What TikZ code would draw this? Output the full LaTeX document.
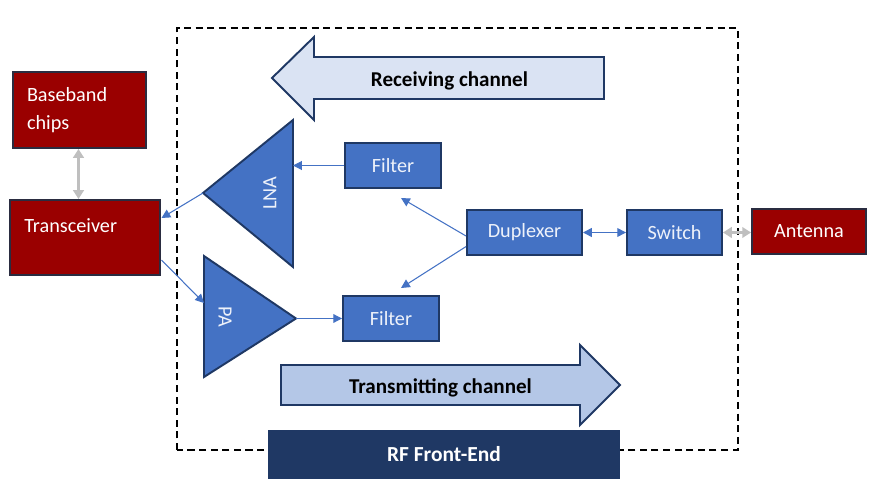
\documentclass[tikz,border=0pt]{standalone}
\usepackage{fontspec}
\setmainfont{Carlito}
\usetikzlibrary{arrows.meta}

\definecolor{blockblue}{HTML}{4472C4}
\definecolor{navyline}{HTML}{1F3864}
\definecolor{chipred}{HTML}{9A0000}
\definecolor{redline}{HTML}{2A2C40}
\definecolor{rxfill}{HTML}{DAE3F3}
\definecolor{txfill}{HTML}{B4C7E7}
\definecolor{arrowgray}{HTML}{BFBFBF}
\definecolor{paletext}{HTML}{EEF2FA}

\begin{document}
\begin{tikzpicture}[
    blockbox/.style={draw=navyline, line width=1.1pt, fill=blockblue, text=paletext,
        font=\fontsize{11.5}{13}\selectfont, minimum height=0.9cm, inner sep=0pt},
    redbox/.style={draw=redline, line width=1.1pt, fill=chipred, text=white,
        font=\fontsize{11.5}{16}\selectfont, inner sep=0pt},
    tribox/.style={draw=navyline, line width=1.1pt, fill=blockblue, line join=miter},
    sigarrow/.style={draw=blockblue, line width=0.6pt, -{Triangle[width=5pt,length=5pt]}},
    duparrow/.style={draw=blockblue, line width=0.8pt, {Triangle[width=5pt,length=5pt]}-{Triangle[width=5pt,length=5pt]}},
    grayarrow/.style={draw=arrowgray, line width=1.2pt, {Triangle[width=6pt,length=5pt]}-{Triangle[width=6pt,length=5pt]}},
    chanlabel/.style={font=\fontsize{12}{14}\selectfont\bfseries, text=black}
]
    \useasboundingbox (0,0) rectangle (17.5,9.9);

    % Dashed frame of the RF front-end
    \draw[line width=0.9pt, dash pattern=on 4pt off 2.6pt] (3.54,0.90) rectangle (14.76,9.34);

    % Receiving and transmitting channel arrows
    \draw[draw=navyline, line width=1.1pt, fill=rxfill]
        (5.44,8.34) -- (6.28,9.16) -- (6.28,8.76) -- (12.08,8.76)
        -- (12.08,7.92) -- (6.28,7.92) -- (6.28,7.50) -- cycle;
    \node[chanlabel] (rxlabel) at (8.99,8.28) {Receiving channel};
    \draw[draw=navyline, line width=1.1pt, fill=txfill]
        (5.62,2.60) -- (11.60,2.60) -- (11.60,3.00) -- (12.40,2.20)
        -- (11.60,1.40) -- (11.60,1.80) -- (5.62,1.80) -- cycle;
    \node[chanlabel] (txlabel) at (8.81,2.14) {Transmitting channel};

    % RF Front-End title bar
    \node[fill=navyline, text=white, minimum width=7.04cm, minimum height=0.98cm,
        font=\fontsize{12.2}{14}\selectfont\bfseries] (rffe) at (8.88,0.81) {RF Front-End};

    % Blocks outside the front-end
    \node[redbox, minimum width=2.66cm, minimum height=1.52cm, text width=2.1cm,
        align=left, inner xsep=0.28cm] (bb) at (1.59,7.70) {Baseband\\chips};
    \node[redbox, minimum width=3.0cm, minimum height=1.5cm] (trx) at (1.70,5.15) {};
    \node[text=white, font=\fontsize{11.5}{13}\selectfont, anchor=west, inner sep=0pt] (trxlabel) at (0.48,5.38) {Transceiver};
    \node[redbox, minimum width=2.28cm, minimum height=0.9cm] (ant) at (16.18,5.27) {Antenna};

    % Amplifiers
    \draw[tribox] (4.06,6.04) coordinate (lnatip) -- (5.86,7.50) -- (5.86,4.56) -- cycle;
    \coordinate (lnaside) at (5.86,6.04);
    \node[rotate=90, text=paletext, font=\fontsize{11.5}{13}\selectfont] (lnalabel) at (5.40,6.04) {LNA};
    \draw[tribox] (4.08,4.78) coordinate (patop) -- (5.92,3.53) coordinate (patip) -- (4.08,2.36) -- cycle;
    \coordinate (paside) at (4.08,3.84);
    \node[rotate=-90, text=paletext, font=\fontsize{11.5}{13}\selectfont] (palabel) at (4.50,3.56) {PA};

    % Filters, duplexer and switch
    \node[blockbox, minimum width=1.92cm] (ftop) at (7.86,6.59) {Filter};
    \node[blockbox, minimum width=1.92cm] (fbot) at (7.82,3.53) {Filter};
    \node[blockbox, minimum width=2.30cm] (dup) at (10.49,5.25) {Duplexer};
    \node[blockbox, minimum width=1.90cm] (sw) at (13.49,5.25) {Switch};

    % Signal paths
    \coordinate (ftopin) at (8.02,5.94);
    \coordinate (fbotin) at (8.02,4.14);
    \coordinate (trxin) at (3.23,5.54);
    \coordinate (trxout) at (3.23,4.70);
    \draw[sigarrow] (ftop.west) -- (ftop.west -| lnaside);
    \draw[sigarrow] ([yshift=-2pt]dup.west) -- (ftopin);
    \draw[sigarrow] ([yshift=-8pt]dup.west) -- (fbotin);
    \draw[sigarrow] (patip) -- (fbot.west);
    \draw[sigarrow] (lnatip) -- (trxin);
    \draw[sigarrow] (trxout) -- (paside);
    \draw[duparrow] (dup.east) -- (sw.west);
    \draw[grayarrow] (sw.east) -- (sw.east -| ant.west);
    \draw[grayarrow] ([xshift=-0.02cm]bb.south) -- ([xshift=-0.02cm]bb.south |- trx.north);
\end{tikzpicture}
\end{document}
